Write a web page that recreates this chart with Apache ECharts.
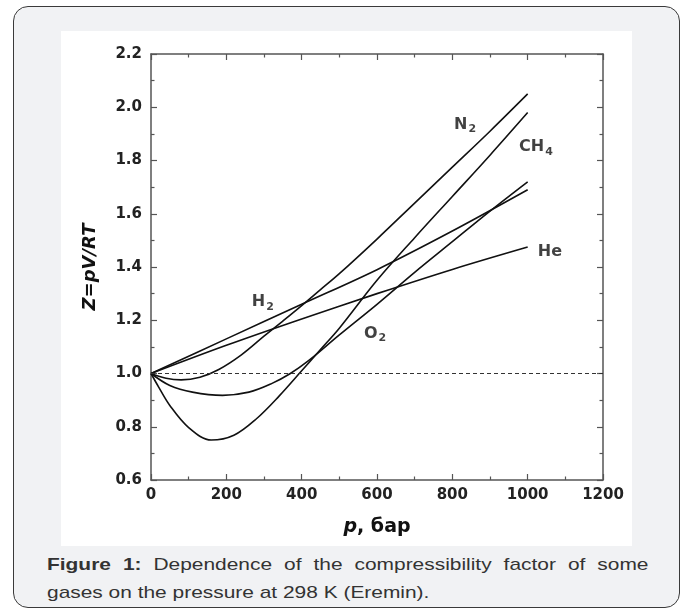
<!DOCTYPE html>
<html>
<head>
<meta charset="utf-8">
<script src="https://cdn.jsdelivr.net/npm/echarts@6/dist/echarts.min.js"></script>
<style>
    body {margin: 0; background: #fff;}
    #frame {
        position: absolute; left: 13px; top: 6px; width: 667px; height: 602px;
        box-sizing: border-box; border: 1.5px solid #3a3a3a; border-radius: 15px;
        background: #f1f2f4;
    }
    #charts {position: absolute; left: 61px; top: 31px; width: 571px; height: 515px; background: #fff;}
    #caption {
        position: absolute; left: 47px; top: 551px; width: 489px;
        transform: scaleX(1.23); transform-origin: 0 0;
        font-family: 'Liberation Sans', Arial, sans-serif; font-size: 17px; line-height: 28px; color: #333;
    }
    #caption .first {text-align: justify; text-align-last: justify;}
</style>
</head>
<body>
<div id="frame"></div>
<div id="charts"></div>
<div id="caption">
    <div class="first"><b>Figure 1:</b> Dependence of the compressibility factor of some</div>
    <div>gases on the pressure at 298 K (Eremin).</div>
</div>
<script>
// pressure (bar) and Z = pV/RT
const pN2  = [0, 40, 80, 130, 180, 240, 300, 350, 400, 450, 500, 600, 700, 800, 900, 1000];
const zN2  = [1.0, 0.982, 0.976, 0.986, 1.015, 1.07, 1.14, 1.197, 1.255, 1.315, 1.375, 1.505, 1.64, 1.775, 1.91, 2.05];

const pCH4 = [0, 20, 50, 100, 160, 220, 280, 340, 400, 450, 500, 600, 700, 800, 900, 1000];
const zCH4 = [1.0, 0.95, 0.88, 0.797, 0.75, 0.768, 0.83, 0.915, 1.01, 1.09, 1.17, 1.35, 1.51, 1.665, 1.82, 1.98];

const pO2  = [0, 50, 110, 190, 260, 320, 370, 420, 500, 600, 700, 800, 900, 1000];
const zO2  = [1.0, 0.955, 0.93, 0.918, 0.93, 0.962, 1.0, 1.05, 1.145, 1.26, 1.38, 1.495, 1.61, 1.72];

const pH2  = [0, 200, 400, 600, 800, 1000];
const zH2  = [1.0, 1.13, 1.26, 1.39, 1.535, 1.69];

const pHe  = [0, 200, 400, 600, 800, 1000];
const zHe  = [1.0, 1.106, 1.205, 1.3, 1.391, 1.475];

// curve labels
const labelMain = ['N', 'CH', 'He', 'H', 'O'];
const labelSub = ['2', '4', '', '2', '2'];
const labelX = [834, 1022, 1059, 297, 595];
const labelY = [1.933, 1.85, 1.457, 1.268, 1.15];

const xTicks = {min: 0, max: 1200, interval: 200};
const yTicks = {min: 0.6, max: 2.2, interval: 0.2};

const font = "'DejaVu Sans', sans-serif";

var chartDom = document.getElementById('charts');
var myChart = echarts.init(chartDom);
var option;

const curve = (xs, ys) => ({
    type: 'line',
    data: xs.map((p, i) => [p, ys[i]]),
    smooth: 0.35,
    symbol: 'none',
    lineStyle: {color: '#111', width: 1.6}
});

const axisCommon = {
    type: 'value',
    axisLine: {show: true, onZero: false, lineStyle: {color: '#555', width: 1.5}},
    axisTick: {show: true, inside: true, length: 6, lineStyle: {color: '#555', width: 1.2}},
    minorTick: {show: true, splitNumber: 2, length: 3.5, lineStyle: {color: '#555', width: 1.2}},
    splitLine: {show: false}
};

const labelStyle = {
    fontFamily: font, fontWeight: 'bold', fontSize: 15, color: '#222'
};

option = {
    animation: false,
    grid: {left: 90, top: 23, right: 29, bottom: 66},
    xAxis: [
        {
            ...axisCommon, ...xTicks, position: 'bottom',
            axisLabel: {...labelStyle, margin: 8, formatter: v => String(v)},
            name: '{i|p}{n|, бар}',
            nameLocation: 'middle',
            nameGap: 38,
            nameTextStyle: {
                rich: {
                    i: {fontFamily: font, fontWeight: 'bold', fontStyle: 'italic', fontSize: 19, color: '#111'},
                    n: {fontFamily: font, fontWeight: 'bold', fontSize: 19, color: '#111'}
                }
            }
        },
        {...axisCommon, ...xTicks, position: 'top', axisLabel: {show: false}}
    ],
    yAxis: [
        {
            ...axisCommon, ...yTicks, position: 'left',
            axisLabel: {...labelStyle, margin: 9, formatter: v => v.toFixed(1)},
            name: 'Z=pV/RT',
            nameLocation: 'middle',
            nameGap: 52,
            nameTextStyle: {fontFamily: font, fontWeight: 'bold', fontStyle: 'italic', fontSize: 18, color: '#111'}
        },
        {...axisCommon, ...yTicks, position: 'right', axisLabel: {show: false}}
    ],
    series: [
        {
            ...curve(pN2, zN2),
            markLine: {
                silent: true,
                symbol: 'none',
                label: {show: false},
                lineStyle: {color: '#333', width: 1.2, type: [4, 3]},
                data: [{yAxis: 1.0}]
            }
        },
        curve(pCH4, zCH4),
        curve(pO2, zO2),
        curve(pH2, zH2),
        curve(pHe, zHe),
        {
            type: 'scatter',
            symbolSize: 0,
            data: labelMain.map((m, i) => ({
                value: [labelX[i], labelY[i]],
                text: labelSub[i] ? `{b|${m}}{s|${labelSub[i]}}` : `{b|${m}}`
            })),
            label: {
                show: true,
                position: 'inside',
                formatter: p => p.data.text,
                rich: {
                    b: {fontFamily: font, fontWeight: 'bold', fontSize: 16, color: '#111'},
                    s: {fontFamily: font, fontWeight: 'bold', fontSize: 11, color: '#111', padding: [9, 0, 0, 1]}
                }
            }
        }
    ]
};

myChart.setOption(option);
</script>
</body>
</html>
